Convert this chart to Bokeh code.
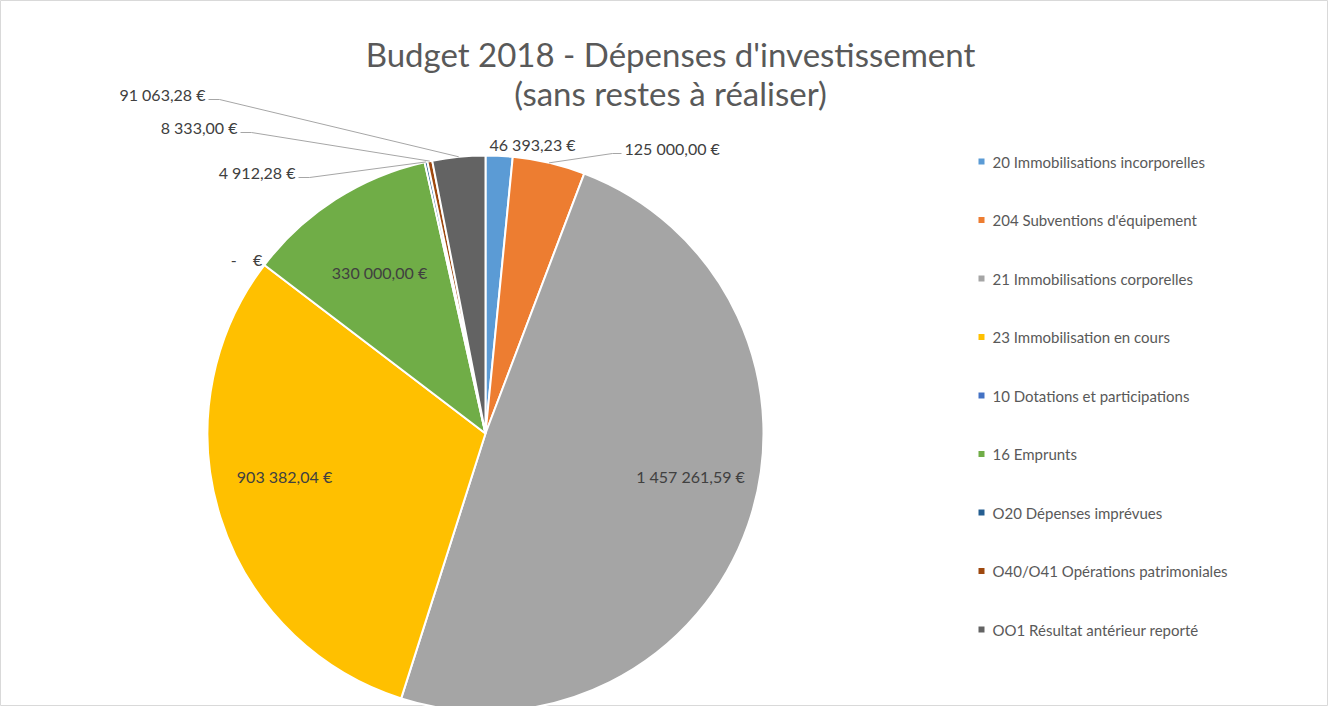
import numpy as np
from bokeh.plotting import figure
from bokeh.models import Range1d, ColumnDataSource
from bokeh.core.properties import value
from bokeh.embed import file_html
from bokeh.resources import INLINE

# ---------------- data ----------------
categories = [
    "20 Immobilisations incorporelles",
    "204 Subventions d'équipement",
    "21 Immobilisations corporelles",
    "23 Immobilisation en cours",
    "10 Dotations et participations",
    "16 Emprunts",
    "O20 Dépenses imprévues",
    "O40/O41 Opérations patrimoniales",
    "OO1 Résultat antérieur reporté",
]
amounts = [46393.23, 125000.00, 1457261.59, 903382.04, 0.00, 330000.00, 4912.28, 8333.00, 91063.28]
colors = ["#5B9BD5", "#ED7D31", "#A5A5A5", "#FFC000", "#4472C4", "#70AD47", "#255E91", "#9E480E", "#636363"]
title_lines = ["Budget 2018 - Dépenses d'investissement", "(sans restes à réaliser)"]

# ---------------- layout (page pixels) ----------------
W, H = 1328, 706
FONT = value("Lato")


def X(px):
    return px - 8


def Y(py):
    return H + 8 - py


CX, CY, R = 493, 441, 278

# label placement: (mode, page x, page y)
#   "c" = centered, "l" = left aligned (leader on the left), "r" = right aligned (leader on the right)
label_place = [
    ("c", 540, 152),
    ("l", 632, 156),
    ("c", 698, 484),
    ("c", 292, 484),
    ("c", 254, 267),
    ("c", 387, 280),
    ("r", 303, 180),
    ("r", 245, 135),
    ("r", 213, 102),
]
legend_x, legend_y0, legend_dy = 989, 169, 58.5


def fmt(v):
    if v == 0:
        return "-\u00a0\u00a0\u00a0\u00a0€"
    s = f"{v:,.2f}"
    return s.replace(",", "\u00a0").replace(".", ",") + "\u00a0€"


vals = np.array(amounts)
total = vals.sum()
cum = np.concatenate([[0.0], np.cumsum(vals)]) / total
start_ang = np.pi / 2 - 2 * np.pi * cum[:-1]
end_ang = np.pi / 2 - 2 * np.pi * cum[1:]
mid_ang = (start_ang + end_ang) / 2

p = figure(width=W, height=H, output_backend="svg", toolbar_location=None,
           x_range=Range1d(0, W), y_range=Range1d(0, H), min_border=0,
           tools="")
p.axis.visible = False
p.grid.visible = False
p.outline_line_color = "#d9d9d9"
p.outline_line_width = 1
p.background_fill_color = "white"
p.border_fill_color = "white"

keep = vals > 0
src = ColumnDataSource(dict(start=start_ang[keep], end=end_ang[keep],
                            color=[c for c, k in zip(colors, keep) if k],
                            cat=[c for c, k in zip(categories, keep) if k]))
p.wedge(x=X(CX), y=Y(CY), radius=R, start_angle="start", end_angle="end",
        direction="clock", fill_color="color", line_color="white", line_width=2,
        source=src)

# title
p.text(x=[X(678), X(678)], y=[Y(61), Y(100)], text=title_lines,
       text_font=FONT, text_font_size="33px", text_color="#595959",
       text_align="center", text_baseline="middle")

# data labels
lead_xs, lead_ys = [], []
for i, (mode, lx, ly) in enumerate(label_place):
    txt = fmt(amounts[i])
    align = {"c": "center", "l": "left", "r": "right"}[mode]
    p.text(x=[X(lx)], y=[Y(ly)], text=[txt], text_font=FONT, text_font_size="16px",
           text_color="#404040", text_align=align, text_baseline="middle")
    if mode in ("l", "r"):
        ex = CX + R * np.cos(mid_ang[i])
        ey = CY - R * np.sin(mid_ang[i])
        if mode == "r":
            x0, x1 = lx + 3, lx + 14
        else:
            x0, x1 = lx - 3, lx - 12
        lead_xs.append([X(x0), X(x1), X(ex)])
        lead_ys.append([Y(ly + 5), Y(ly + 5), Y(ey)])
p.multi_line(xs=lead_xs, ys=lead_ys, line_color="#a6a6a6", line_width=1)

# legend
ly = [legend_y0 + legend_dy * i for i in range(len(categories))]
p.scatter(x=[X(legend_x)] * len(categories), y=[Y(v) for v in ly], marker="square",
          size=6, fill_color=colors, line_color=None)
p.text(x=[X(legend_x + 11)] * len(categories), y=[Y(v) for v in ly], text=categories,
       text_font=FONT, text_font_size="15px", text_color="#595959",
       text_align="left", text_baseline="middle")

open("out.html", "w").write(file_html(p, INLINE))
